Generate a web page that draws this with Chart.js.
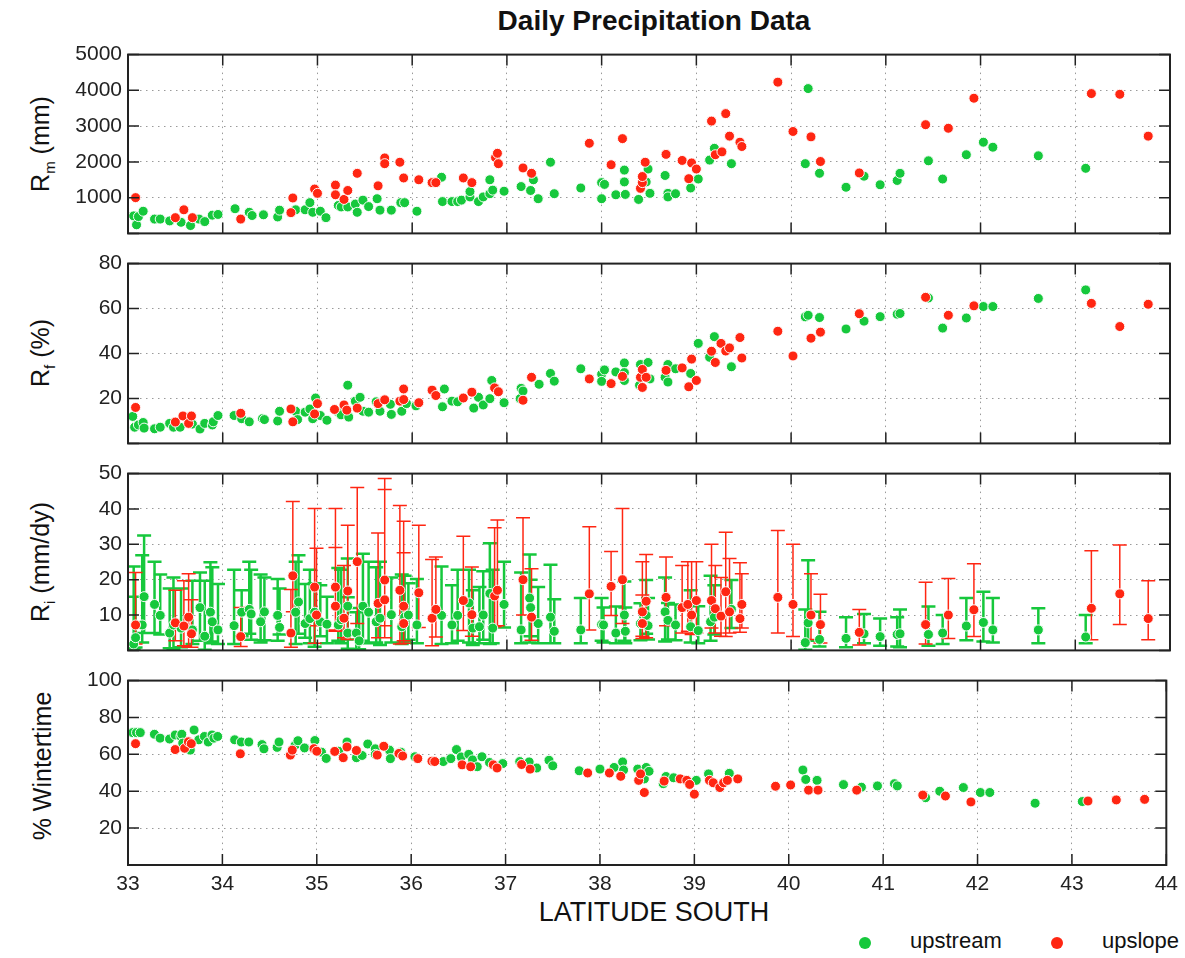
<!DOCTYPE html>
<html>
<head>
<meta charset="utf-8">
<script src="https://cdn.jsdelivr.net/npm/chart.js@4.4.1/dist/chart.umd.min.js"></script>
<style>
body { margin: 0; background: #fff; font-family: "Liberation Sans", Arial, sans-serif; }
#page { position: relative; width: 1185px; height: 958px; overflow: hidden; }
canvas { position: absolute; left: 0; }
.txt { position: absolute; color: #111; white-space: nowrap; }
.ytitle { position: absolute; font-size: 25px; color: #111; white-space: nowrap; transform: translate(-50%, -50%) rotate(-90deg); }
.ytitle sub { font-size: 0.6em; vertical-align: -0.35em; }
.dot { position: absolute; width: 12px; height: 12px; border-radius: 50%; }
</style>
</head>
<body>
<div id="page">
  <div class="txt" style="left:128px; width:1052px; top:5px; text-align:center; font-size:28px; font-weight:bold;">Daily Precipitation Data</div>
  <div class="ytitle" style="left:42px; top:144px;">R<sub>m</sub> (mm)</div>
  <div class="ytitle" style="left:42px; top:353px;">R<sub>f</sub> (%)</div>
  <div class="ytitle" style="left:42px; top:562px;">R<sub>i</sub> (mm/dy)</div>
  <div class="ytitle" style="left:42px; top:766px;">% Wintertime</div>
  <div class="txt" style="left:128px; width:1052px; top:897px; text-align:center; font-size:27px;">LATITUDE SOUTH</div>
  <div class="dot" style="left:859px; top:937px; background:#16c83c;"></div>
  <div class="txt" style="left:910px; top:928px; font-size:22px;">upstream</div>
  <div class="dot" style="left:1051px; top:937px; background:#ff2612;"></div>
  <div class="txt" style="left:1102px; top:928px; font-size:22px;">upslope</div>

  <canvas id="c1" width="1185" height="216" style="top:36px"></canvas>
  <canvas id="c2" width="1185" height="217" style="top:245px"></canvas>
  <canvas id="c3" width="1185" height="214" style="top:455px"></canvas>
  <canvas id="c4" width="1185" height="243" style="top:662px"></canvas>
</div>
<script>
// ---- data: [latitude, value] ----
const rmUpstream = [[33.06,490],[33.09,240],[33.11,470],[33.16,620],[33.28,400],[33.34,400],[33.44,350],[33.56,310],[33.66,220],[33.75,400],[33.81,330],[33.89,510],[33.95,530],[34.13,690],[34.28,590],[34.31,500],[34.43,520],[34.58,460],[34.60,650],[34.77,660],[34.87,660],[34.92,860],[34.95,590],[35.03,620],[35.09,440],[35.22,780],[35.25,740],[35.32,740],[35.40,820],[35.42,590],[35.48,930],[35.54,750],[35.63,970],[35.66,650],[35.78,650],[35.88,860],[35.92,860],[36.05,620],[36.31,1570],[36.32,890],[36.42,890],[36.48,890],[36.52,930],[36.61,1020],[36.61,1170],[36.70,890],[36.75,1020],[36.82,1500],[36.82,1110],[36.85,1210],[36.97,1180],[37.15,1310],[37.25,1200],[37.28,1500],[37.33,970],[37.46,1990],[37.50,1110],[37.78,1270],[38.00,970],[38.00,1420],[38.03,1370],[38.15,1080],[38.24,1770],[38.24,1440],[38.25,1090],[38.39,950],[38.47,1440],[38.49,1800],[38.51,1120],[38.67,1620],[38.70,1120],[38.70,1020],[38.78,1110],[38.94,1270],[39.02,1520],[39.14,2050],[39.19,2380],[39.37,1950],[40.15,1950],[40.18,4050],[40.30,1680],[40.58,1290],[40.77,1600],[40.94,1360],[41.12,1480],[41.15,1680],[41.45,2030],[41.60,1520],[41.85,2200],[42.03,2550],[42.13,2410],[42.61,2170],[43.11,1820]];
const rmUpslope = [[33.08,1000],[33.50,440],[33.59,660],[33.68,440],[34.19,400],[34.72,580],[34.74,990],[34.97,1240],[35.00,1120],[35.19,1350],[35.19,1080],[35.28,950],[35.32,1200],[35.42,1680],[35.64,1330],[35.71,2110],[35.71,1950],[35.87,1990],[35.91,1550],[36.07,1500],[36.21,1420],[36.25,1420],[36.54,1550],[36.63,1420],[36.88,2120],[36.90,2240],[36.91,1950],[37.17,1830],[37.26,1680],[37.87,2520],[38.10,1920],[38.22,2650],[38.41,1260],[38.43,1420],[38.43,1590],[38.46,1990],[38.68,2210],[38.85,2040],[38.92,1530],[38.95,1970],[39.00,1800],[39.16,3140],[39.20,2200],[39.27,2280],[39.31,3350],[39.35,2720],[39.46,2550],[39.48,2430],[39.86,4230],[40.02,2850],[40.21,2700],[40.31,2010],[40.72,1690],[41.42,3040],[41.66,2940],[41.93,3780],[43.17,3910],[43.47,3890],[43.77,2720]];

const rfUpstream = [[33.05,12.0],[33.07,7.2],[33.11,8.2],[33.16,9.3],[33.17,6.8],[33.28,6.5],[33.34,7.2],[33.44,8.9],[33.48,7.2],[33.55,7.2],[33.68,8.6],[33.76,6.4],[33.81,8.9],[33.89,8.2],[33.90,9.6],[33.95,12.4],[34.12,12.4],[34.20,11.0],[34.28,9.6],[34.42,11.0],[34.44,10.6],[34.58,10.0],[34.60,14.3],[34.77,14.3],[34.79,10.6],[34.87,13.9],[34.92,15.3],[34.95,11.0],[34.98,20.2],[35.03,12.4],[35.10,10.3],[35.22,13.9],[35.25,12.7],[35.32,25.9],[35.33,11.7],[35.40,18.8],[35.45,20.5],[35.48,14.3],[35.54,13.9],[35.62,18.5],[35.66,14.3],[35.77,17.4],[35.78,12.9],[35.89,14.3],[35.94,17.7],[36.04,16.7],[36.32,16.3],[36.34,24.2],[36.42,18.8],[36.48,18.5],[36.65,15.7],[36.70,20.5],[36.75,17.1],[36.82,19.9],[36.84,28.0],[36.97,18.1],[37.14,19.9],[37.15,24.5],[37.17,23.3],[37.34,26.3],[37.46,31.1],[37.50,27.7],[37.78,33.2],[38.00,30.8],[38.00,27.6],[38.03,32.7],[38.15,31.8],[38.24,35.8],[38.24,31.5],[38.24,28.0],[38.40,25.9],[38.41,35.1],[38.49,36.0],[38.51,28.7],[38.67,29.4],[38.70,35.1],[38.70,27.3],[38.78,33.2],[38.94,31.1],[39.02,44.5],[39.14,38.3],[39.19,47.5],[39.37,34.1],[40.15,56.3],[40.18,57.0],[40.30,56.0],[40.58,50.9],[40.77,54.4],[40.94,56.4],[41.12,57.5],[41.15,57.8],[41.45,64.7],[41.60,51.3],[41.85,55.8],[42.03,60.9],[42.13,60.9],[42.61,64.5],[43.11,68.3]];
const rfUpslope = [[33.08,16.0],[33.50,9.5],[33.58,12.2],[33.64,8.9],[33.67,12.2],[34.19,13.4],[34.72,15.3],[34.74,9.6],[34.97,13.1],[35.00,17.7],[35.18,15.1],[35.28,17.1],[35.31,14.8],[35.42,15.7],[35.64,17.7],[35.71,19.4],[35.87,18.8],[35.91,24.2],[35.91,19.5],[36.07,18.1],[36.21,23.7],[36.25,21.3],[36.54,20.2],[36.63,22.8],[36.87,24.7],[36.91,23.0],[37.17,19.2],[37.26,29.4],[37.87,28.7],[38.10,26.6],[38.22,29.8],[38.41,29.4],[38.43,32.9],[38.43,24.9],[38.47,29.4],[38.68,32.5],[38.85,33.6],[38.92,25.2],[38.95,37.5],[39.00,28.0],[39.16,41.0],[39.20,36.0],[39.26,44.5],[39.31,41.1],[39.35,42.5],[39.46,47.1],[39.48,38.0],[39.86,49.9],[40.02,38.9],[40.21,46.8],[40.31,49.5],[40.72,57.7],[41.42,65.0],[41.66,57.0],[41.93,61.2],[43.17,62.3],[43.47,52.0],[43.77,61.9]];

// [latitude, value, lower, upper]
const riUpstream = [[33.06,1.8,0.5,23.7],[33.08,3.6,0.8,15.2],[33.15,7.2,2.2,26.9],[33.17,15.2,4.9,32.5],[33.28,13.0,4.9,25.1],[33.34,9.9,4.5,21.5],[33.44,4.9,0.6,17.5],[33.48,7.2,0.4,20.6],[33.56,6.3,0.9,17.5],[33.68,5.8,1.8,19.7],[33.76,12.1,2.7,22.0],[33.81,4.0,0.2,19.7],[33.87,10.8,2.5,24.9],[33.89,8.1,2.0,23.5],[33.95,5.8,1.8,18.8],[34.12,7.0,1.8,22.8],[34.20,10.8,4.0,17.0],[34.28,11.6,4.7,25.1],[34.30,10.3,3.0,22.8],[34.40,8.1,2.2,21.5],[34.44,10.9,2.9,20.6],[34.58,9.9,2.7,20.2],[34.60,6.5,4.5,17.5],[34.77,10.8,1.8,25.1],[34.80,13.7,4.7,26.9],[34.87,7.6,3.6,18.8],[34.92,9.0,2.0,22.8],[34.97,10.8,1.0,19.0],[35.03,8.1,4.0,18.4],[35.10,7.4,2.0,15.2],[35.22,7.2,2.7,23.3],[35.25,8.7,2.0,22.8],[35.32,12.5,3.1,26.0],[35.32,4.9,0.5,15.0],[35.41,4.9,0.0,10.8],[35.44,2.7,0.3,12.0],[35.48,12.5,2.7,27.3],[35.54,10.8,2.0,25.1],[35.62,8.1,2.2,23.5],[35.66,9.1,1.5,25.1],[35.78,10.1,2.2,20.6],[35.89,6.7,1.8,21.5],[35.92,9.4,2.5,21.1],[35.96,10.0,3.0,19.0],[36.05,7.2,2.0,20.2],[36.31,9.9,1.8,23.7],[36.42,7.2,2.0,18.4],[36.48,9.9,2.7,22.8],[36.60,13.4,2.2,22.8],[36.64,6.3,1.5,17.0],[36.71,6.7,2.0,17.9],[36.75,10.0,3.0,22.4],[36.82,16.1,1.8,30.3],[36.85,6.3,2.0,22.8],[36.97,13.0,6.5,25.1],[37.15,5.8,2.0,22.0],[37.24,14.8,2.2,27.1],[37.25,12.1,4.0,20.0],[37.33,7.6,2.0,17.9],[37.46,9.4,2.0,24.2],[37.50,5.4,2.0,14.5],[37.78,5.8,2.0,14.8],[38.00,7.3,2.7,14.8],[38.02,7.2,2.2,12.1],[38.15,4.9,2.0,12.4],[38.24,10.0,2.7,19.5],[38.25,5.4,2.0,12.1],[38.41,7.6,2.9,13.3],[38.47,9.9,4.7,19.9],[38.49,7.0,3.1,14.8],[38.67,10.9,2.5,20.6],[38.70,8.5,3.1,13.4],[38.78,7.2,2.9,13.0],[38.94,6.7,2.2,17.0],[39.02,5.6,2.0,12.5],[39.15,8.1,2.7,21.1],[39.19,9.4,4.5,18.4],[39.37,11.6,6.3,19.9],[40.15,2.2,0.2,11.6],[40.18,7.8,2.7,25.5],[40.30,3.1,1.1,10.9],[40.58,3.4,0.9,9.4],[40.77,4.7,2.0,10.3],[40.94,3.9,1.3,9.0],[41.12,4.5,1.1,9.4],[41.15,4.7,0.9,11.6],[41.45,4.5,1.3,12.4],[41.60,4.9,1.8,10.0],[41.85,6.9,2.9,14.8],[42.03,7.9,2.5,16.6],[42.13,5.8,2.2,14.8],[42.61,5.8,2.0,11.9],[43.11,3.8,2.0,10.0]];
const riUpslope = [[33.08,7.2,1.8,22.0],[33.50,7.8,2.7,17.0],[33.59,6.9,1.3,19.7],[33.64,9.4,0.9,21.7],[33.67,4.7,0.9,14.3],[34.19,3.9,1.1,12.1],[34.72,4.9,0.9,17.2],[34.74,21.1,10.9,42.1],[34.97,17.9,2.0,40.1],[34.99,10.0,7.0,28.9],[35.19,17.9,5.8,40.1],[35.19,12.5,5.4,29.1],[35.28,9.1,3.6,24.0],[35.32,16.8,3.1,35.4],[35.42,25.1,7.6,46.1],[35.64,13.3,3.6,33.2],[35.71,19.9,7.0,48.6],[35.71,14.3,3.6,45.5],[35.87,17.0,1.8,41.0],[35.91,12.5,2.7,36.5],[35.91,7.6,2.0,27.6],[36.07,16.3,6.5,35.4],[36.21,9.1,1.3,25.7],[36.25,11.6,3.8,26.4],[36.54,14.1,5.6,32.3],[36.63,10.1,4.0,23.6],[36.87,15.4,6.7,34.7],[36.90,17.0,7.0,36.9],[37.17,20.0,10.0,37.5],[37.26,9.4,2.9,23.1],[37.87,16.0,5.8,35.0],[38.10,18.1,9.9,28.0],[38.22,20.0,7.6,40.1],[38.43,10.9,4.0,25.1],[38.43,7.6,3.4,15.7],[38.47,13.9,3.6,27.1],[38.68,15.0,7.0,26.4],[38.85,12.1,4.9,24.0],[38.91,13.0,5.4,25.1],[38.95,10.0,4.5,25.1],[39.00,14.1,4.9,25.1],[39.16,14.1,6.3,30.0],[39.20,11.8,4.9,24.0],[39.26,9.7,4.0,20.6],[39.31,16.6,3.9,33.4],[39.35,10.9,4.9,26.0],[39.46,9.0,5.1,24.8],[39.48,13.0,6.3,21.7],[39.86,15.0,4.9,33.9],[40.02,13.0,3.9,30.0],[40.21,10.0,3.1,21.7],[40.31,7.3,2.1,15.9],[40.72,5.1,1.5,11.6],[41.42,7.3,1.8,19.3],[41.66,10.0,3.4,20.3],[41.93,11.5,3.9,24.5],[43.17,11.9,3.0,28.2],[43.47,16.0,7.3,29.8],[43.77,9.0,3.0,19.7]];

const wtUpstream = [[33.05,71.8],[33.09,71.8],[33.13,71.8],[33.28,70.9],[33.34,68.8],[33.44,68.3],[33.50,70.5],[33.56,69.7],[33.57,70.9],[33.58,66.1],[33.66,62.3],[33.70,73.2],[33.75,67.9],[33.81,69.7],[33.85,66.7],[33.89,70.5],[33.91,68.8],[33.95,69.7],[34.13,67.9],[34.20,66.7],[34.28,66.7],[34.42,65.3],[34.44,63.0],[34.58,63.8],[34.60,66.7],[34.77,64.9],[34.80,67.4],[34.87,63.5],[34.98,67.5],[35.05,61.2],[35.10,57.8],[35.23,61.7],[35.32,66.7],[35.42,58.2],[35.48,59.4],[35.54,65.6],[35.62,63.0],[35.62,60.0],[35.77,62.3],[35.78,57.7],[35.89,61.2],[36.04,58.7],[36.34,56.1],[36.42,57.7],[36.48,62.6],[36.53,58.6],[36.61,60.0],[36.65,57.0],[36.70,53.3],[36.75,58.7],[36.83,55.6],[36.97,55.0],[37.15,56.1],[37.25,55.9],[37.33,52.6],[37.46,56.8],[37.50,53.8],[37.78,51.1],[38.00,52.0],[38.15,52.9],[38.24,55.9],[38.25,51.5],[38.40,52.0],[38.47,46.7],[38.49,52.9],[38.52,50.8],[38.67,44.1],[38.70,48.0],[38.78,47.3],[39.02,45.9],[39.15,49.4],[39.37,49.7],[40.15,51.5],[40.18,46.4],[40.30,45.9],[40.58,43.6],[40.77,42.2],[40.94,42.9],[41.12,44.1],[41.15,42.9],[41.45,36.5],[41.60,40.0],[41.85,42.0],[42.03,39.3],[42.13,39.3],[42.61,33.5],[43.11,34.4]];
const wtUpslope = [[33.08,65.8],[33.50,62.6],[33.60,63.3],[33.64,66.8],[33.67,65.8],[34.19,60.3],[34.72,59.6],[34.74,62.3],[34.97,63.1],[35.00,61.7],[35.19,61.6],[35.28,58.2],[35.32,64.0],[35.42,62.1],[35.64,59.6],[35.71,64.4],[35.87,60.5],[35.91,59.1],[36.07,57.7],[36.22,56.3],[36.25,56.1],[36.54,54.3],[36.63,53.3],[36.87,54.3],[36.91,52.6],[37.17,54.5],[37.26,52.0],[37.87,49.9],[38.10,49.9],[38.22,48.1],[38.41,45.9],[38.43,49.4],[38.47,39.3],[38.68,45.5],[38.85,46.7],[38.92,45.9],[38.95,43.7],[39.00,38.4],[39.16,45.9],[39.20,44.6],[39.27,42.0],[39.31,44.6],[39.35,45.9],[39.46,46.7],[39.86,42.7],[40.02,43.4],[40.21,40.6],[40.31,40.6],[40.72,40.6],[41.42,37.9],[41.66,37.4],[41.93,34.2],[43.17,34.7],[43.47,35.3],[43.77,35.6]];

const GREEN = '#16c83c'
const RED = '#ff2612'
const FONT = '"Liberation Sans", Arial, sans-serif'

// box around the plot with inward tick marks
const framePlugin = {
    id: 'frame',
    afterDraw(chart) {
        const { ctx, chartArea: a, scales } = chart
        ctx.save()
        ctx.strokeStyle = '#222'
        ctx.lineWidth = 1.5
        ctx.beginPath()
        scales.x.ticks.forEach(t => {
            const px = scales.x.getPixelForValue(t.value)
            ctx.moveTo(px, a.top); ctx.lineTo(px, a.top + 11)
            ctx.moveTo(px, a.bottom); ctx.lineTo(px, a.bottom - 11)
        })
        scales.y.ticks.forEach(t => {
            const py = scales.y.getPixelForValue(t.value)
            ctx.moveTo(a.left, py); ctx.lineTo(a.left + 11, py)
            ctx.moveTo(a.right, py); ctx.lineTo(a.right - 11, py)
        })
        ctx.stroke()
        ctx.lineWidth = 2
        ctx.strokeRect(a.left, a.top, a.right - a.left, a.bottom - a.top)
        ctx.restore()
    },
}

// vertical error bars with caps, drawn under the points
function errorBarPlugin(series) {
    return {
        id: 'errorbars',
        beforeDatasetsDraw(chart) {
            const { ctx, chartArea: a, scales } = chart
            ctx.save()
            ctx.beginPath()
            ctx.rect(a.left, a.top, a.right - a.left, a.bottom - a.top)
            ctx.clip()
            series.forEach(s => {
                ctx.strokeStyle = s.color
                ctx.lineWidth = s.width
                ctx.beginPath()
                s.data.forEach(([lat, v, lo, hi]) => {
                    const px = scales.x.getPixelForValue(lat)
                    const y1 = scales.y.getPixelForValue(lo)
                    const y2 = scales.y.getPixelForValue(hi)
                    ctx.moveTo(px, y1); ctx.lineTo(px, y2)
                    ctx.moveTo(px - s.cap, y1); ctx.lineTo(px + s.cap, y1)
                    ctx.moveTo(px - s.cap, y2); ctx.lineTo(px + s.cap, y2)
                })
                ctx.stroke()
            })
            ctx.restore()
        },
    }
}

function points(arr, color) {
    return {
        data: arr.map(p => ({ x: p[0], y: p[1] })),
        backgroundColor: color,
        borderColor: 'rgba(255,255,255,0.95)',
        borderWidth: 1,
        pointRadius: 5,
        pointHoverRadius: 5,
    }
}

function makePanel(id, yMax, step, upstream, upslope, showX, extra) {
    const ctx = document.getElementById(id).getContext('2d')
    return new Chart(ctx, {
        type: 'scatter',
        data: { datasets: [points(upslope, RED), points(upstream, GREEN)] },
        options: {
            responsive: false,
            animation: false,
            events: [],
            layout: { padding: { top: 14, right: 15, left: 0, bottom: 0 } },
            plugins: { legend: { display: false }, tooltip: { enabled: false } },
            scales: {
                x: {
                    type: 'linear', min: 33, max: 44,
                    afterFit: s => { s.height = showX ? 40 : 14 },
                    ticks: { display: showX, stepSize: 1, padding: 7, color: '#222', font: { family: FONT, size: 21 } },
                    grid: { color: '#9a9a9a', drawTicks: false },
                    border: { display: false, dash: [1.5, 4.5] },
                },
                y: {
                    min: 0, max: yMax,
                    afterFit: s => { s.width = 128 },
                    ticks: {
                        stepSize: step, padding: 6, color: '#222', font: { family: FONT, size: 21 },
                        callback: v => (v === 0 ? '' : v),
                    },
                    grid: { color: '#9a9a9a', drawTicks: false },
                    border: { display: false, dash: [1.5, 4.5] },
                },
            },
        },
        plugins: extra ? [extra, framePlugin] : [framePlugin],
    })
}

makePanel('c1', 5000, 1000, rmUpstream, rmUpslope, false)
makePanel('c2', 80, 20, rfUpstream, rfUpslope, false)
makePanel('c3', 50, 10, riUpstream, riUpslope, false, errorBarPlugin([
    { data: riUpstream, color: GREEN, width: 2.5, cap: 7 },
    { data: riUpslope, color: RED, width: 1.5, cap: 7 },
]))
makePanel('c4', 100, 20, wtUpstream, wtUpslope, true)
</script>
</body>
</html>
